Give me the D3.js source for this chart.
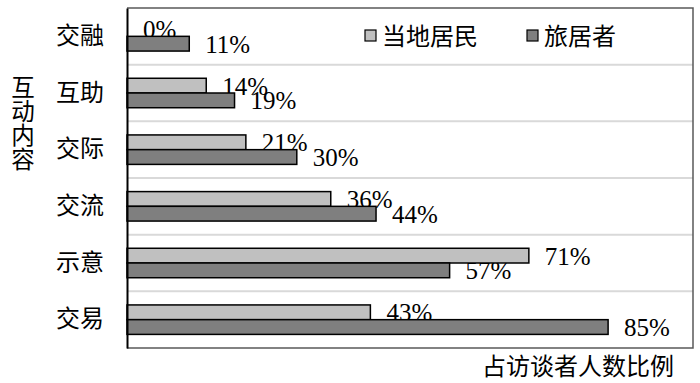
<!DOCTYPE html>
<html>
<head>
<meta charset="utf-8">
<script src="https://cdn.jsdelivr.net/npm/d3@7/dist/d3.min.js"></script>
<style>
  html, body { margin: 0; padding: 0; background: #fff; }
  svg { display: block; }
</style>
</head>
<body>
<svg id="chart" width="700" height="383"></svg>
<script>
const categories = ['交融', '互助', '交际', '交流', '示意', '交易'];
const residents = [0, 14, 21, 36, 71, 43];
const sojourners = [11, 19, 30, 44, 57, 85];
const seriesNames = ['当地居民', '旅居者'];
const yTitle = '互动内容';
const xTitle = '占访谈者人数比例';

const W = 700, H = 383;
const m = { left: 127, right: 7, top: 8, bottom: 35 };
const svg = d3.select('#chart');
const cjk = '"Noto Sans CJK SC", "Noto Sans", sans-serif';
const serif = '"Liberation Serif", "DejaVu Serif", serif';

const x = d3.scaleLinear().domain([0, 100]).range([m.left, W - m.right]);
const y = d3.scaleBand().domain(categories).range([m.top, H - m.bottom]).paddingInner(0).paddingOuter(0);
const barH = y.bandwidth() * 0.26;
const colors = ['#c0c0c0', '#7f7f7f'];

// gridlines between categories
svg.append('g').selectAll('line')
  .data(categories.slice(1))
  .join('line')
  .attr('x1', m.left).attr('x2', W - m.right)
  .attr('y1', d => y(d)).attr('y2', d => y(d))
  .attr('stroke', '#d9d9d9').attr('stroke-width', 2);

const series = [residents, sojourners];
const rows = [];
series.forEach((vals, si) => {
  vals.forEach((v, i) => rows.push({ cat: categories[i], v, si }));
});
const barY = d => y(d.cat) + y.bandwidth() / 2 - barH + d.si * barH;

// value labels (drawn beneath bars)
svg.append('g').selectAll('text')
  .data(rows)
  .join('text')
  .attr('x', d => x(d.v) + 16)
  .attr('y', d => barY(d) + barH / 2 + 9)
  .attr('font-family', serif)
  .attr('font-size', 25)
  .attr('fill', '#000')
  .text(d => d.v + '%');

// bars
svg.append('g').selectAll('rect')
  .data(rows.filter(d => d.v > 0))
  .join('rect')
  .attr('x', x(0))
  .attr('y', barY)
  .attr('width', d => x(d.v) - x(0))
  .attr('height', barH)
  .attr('fill', d => colors[d.si])
  .attr('stroke', '#000')
  .attr('stroke-width', 1.5);

// frame
svg.append('path')
  .attr('d', `M${m.left},${m.top}H${W - m.right}V${H - m.bottom}H${m.left}`)
  .attr('fill', 'none').attr('stroke', '#595959').attr('stroke-width', 1.5);

// category axis
const yAxis = svg.append('g')
  .attr('transform', `translate(${m.left},0)`)
  .call(d3.axisLeft(y).tickSize(0).tickPadding(23));
yAxis.select('.domain').attr('stroke', '#000').attr('stroke-width', 2);
yAxis.selectAll('text')
  .attr('font-family', cjk)
  .attr('font-size', 24)
  .attr('fill', '#000');

// y title, written vertically
svg.append('text')
  .attr('x', 23).attr('y', 75)
  .attr('writing-mode', 'vertical-rl')
  .style('writing-mode', 'vertical-rl')
  .style('text-orientation', 'upright')
  .style('letter-spacing', '0.5px')
  .attr('font-family', cjk)
  .attr('font-size', 23.5)
  .attr('fill', '#000')
  .text(yTitle);

// x title
svg.append('text')
  .attr('x', 674).attr('y', 375)
  .attr('text-anchor', 'end')
  .attr('font-family', cjk)
  .attr('font-size', 24)
  .attr('fill', '#000')
  .text(xTitle);

// legend
const legX = [365, 527];
const leg = svg.append('g').selectAll('g')
  .data(seriesNames)
  .join('g')
  .attr('transform', (d, i) => `translate(${legX[i]},30)`);
leg.append('rect')
  .attr('width', 11).attr('height', 11)
  .attr('fill', (d, i) => colors[i])
  .attr('stroke', '#000').attr('stroke-width', 1.2);
leg.append('text')
  .attr('x', 17).attr('y', 15)
  .attr('font-family', cjk)
  .attr('font-size', 24)
  .attr('fill', '#000')
  .text(d => d);
</script>
</body>
</html>
